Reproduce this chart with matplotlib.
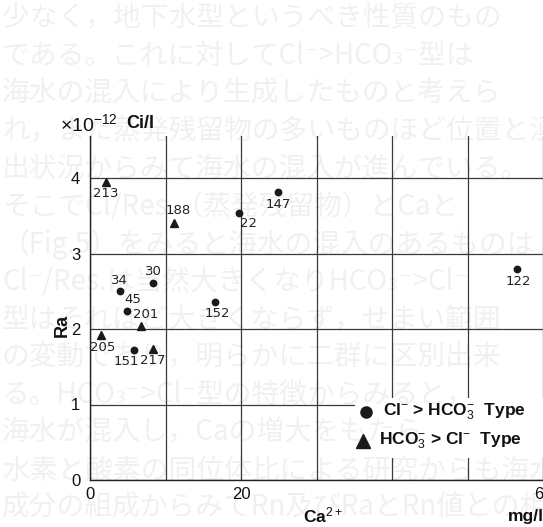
import matplotlib
matplotlib.use("Agg")
import matplotlib.pyplot as plt
from matplotlib.patches import Rectangle

# ---------------- data ----------------
cl_ids = ["147", "22", "30", "34", "45", "152", "151", "122"]
cl_ca = [24.9, 19.7, 8.4, 4.0, 4.9, 16.6, 5.8, 56.5]
cl_ra = [3.81, 3.54, 2.61, 2.50, 2.24, 2.36, 1.72, 2.79]

hco_ids = ["213", "188", "201", "205", "217"]
hco_ca = [2.1, 11.1, 6.75, 1.5, 8.3]
hco_ra = [3.95, 3.41, 2.04, 1.92, 1.74]

x_ticks = [0, 10, 20, 30, 40, 50, 60]
x_tick_labels = ["0", "", "20", "", "", "", "60"]
y_ticks = [0, 1, 2, 3, 4]
y_tick_labels = ["0", "1", "2", "3", "4"]

legend_labels = [r"Cl$^{-}$ > HCO$_{3}^{-}$  Type", r"HCO$_{3}^{-}$ > Cl$^{-}$  Type"]

# faint show-through text of the printed page
page_lines = [
    "少なく，地下水型というべき性質のもの",
    "である。これに対してCl⁻>HCO₃⁻型は",
    "海水の混入により生成したものと考えら",
    "れ，また蒸発残留物の多いものほど位置と湧",
    "出状況からみて海水の混入が進んでいる。",
    "そこでCl/Res.（蒸発残留物）とCaと",
    "（Fig.5）をみると海水の混入のあるものは",
    "Cl⁻/Res.は当然大きくなりHCO₃⁻>Cl⁻",
    "型はそれほど大きくならず，せまい範囲",
    "の変動であり，明らかに二群に区別出来",
    "る。HCO₃⁻>Cl⁻型の特徴からみると，",
    "海水が混入し，Caの増大をもたら",
    "水素と酸素の同位体比による研究からも海水混入",
    "成分の組成からみてRn及びRaとRn値との相",
]

# label offsets (pixels) for point annotations
cl_offsets = {"147": (0, -12), "22": (10, -11), "30": (0, 11), "34": (-1, 11),
              "45": (6, 11), "152": (2, -12), "151": (-7, -11), "122": (2, -12)}
hco_offsets = {"213": (0, -12), "188": (4, 12), "201": (5, 11), "205": (1, -12),
               "217": (0, -12)}

# ---------------- style ----------------
plt.rcParams["font.family"] = ["Liberation Sans", "DejaVu Sans"]
plt.rcParams["mathtext.fontset"] = "custom"
plt.rcParams["mathtext.rm"] = "Liberation Sans"
plt.rcParams["mathtext.it"] = "Liberation Sans:italic"
plt.rcParams["mathtext.bf"] = "Liberation Sans:bold"

W, H = 543, 527
fig = plt.figure(figsize=(W / 100, H / 100), dpi=100)
fig.patch.set_facecolor("white")

x0, x1 = 90, 543
y0, ytop = 480, 136
ax = fig.add_axes([x0 / W, (H - y0) / H, (x1 - x0) / W, (y0 - ytop) / H])
ax.set_xlim(0, 60)
ax.set_ylim(0, (y0 - ytop) / 75.5)
ax.patch.set_alpha(0)

ax.set_xticks(x_ticks)
ax.set_xticklabels(x_tick_labels)
ax.set_yticks(y_ticks)
ax.set_yticklabels(y_tick_labels)
ax.tick_params(length=0, labelsize=12, colors="#111111")
ax.tick_params(axis="x", pad=5)
ax.tick_params(axis="y", pad=7)
ax.grid(True, color="#3a3a3a", lw=0.9)
for s in ["top", "right"]:
    ax.spines[s].set_visible(False)
for s in ["left", "bottom"]:
    ax.spines[s].set_color("#222222")
    ax.spines[s].set_linewidth(1.0)

ax.plot(cl_ca, cl_ra, "o", color="#1a1a1a", ms=4.6, zorder=5, clip_on=False)
ax.plot(hco_ca, hco_ra, "^", color="#1a1a1a", ms=6, zorder=5, clip_on=False)

for i, x, y in zip(cl_ids, cl_ca, cl_ra):
    ax.annotate(i, (x, y), xytext=cl_offsets[i], textcoords="offset pixels",
                ha="center", va="center", fontsize=9.5, color="#222222",
                family="DejaVu Sans", zorder=6)
for i, x, y in zip(hco_ids, hco_ca, hco_ra):
    ax.annotate(i, (x, y), xytext=hco_offsets[i], textcoords="offset pixels",
                ha="center", va="center", fontsize=9.5, color="#222222",
                family="DejaVu Sans", zorder=6)

# legend box (white patch over the grid)
ax.add_patch(Rectangle((355 / W, (H - 458) / H), (W - 355) / W, 60 / H,
                       transform=fig.transFigure, facecolor="white",
                       edgecolor="none", zorder=4, clip_on=False))
fig.lines.append(plt.Line2D([366 / W], [1 - 412 / H], marker="o", ms=8,
                            color="#1a1a1a", ls="none", transform=fig.transFigure))
fig.lines.append(plt.Line2D([363 / W], [1 - 441 / H], marker="^", ms=10,
                            color="#1a1a1a", ls="none", transform=fig.transFigure))
fig.text(383 / W, 1 - 412 / H, legend_labels[0], fontsize=12.5, va="center",
         ha="left", color="#111111", fontweight="bold")
fig.text(379 / W, 1 - 441 / H, legend_labels[1], fontsize=12.5, va="center",
         ha="left", color="#111111", fontweight="bold")

# axis annotations
fig.text(60 / W, 1 - 124 / H, r"$\times$10$^{-12}$", fontsize=14,
         va="center", ha="left", color="#111111")
fig.text(126 / W, 1 - 124 / H, "Ci/l", fontsize=13,
         va="center", ha="left", color="#111111", fontweight="bold")
fig.text(62 / W, 1 - 325 / H, "Ra", rotation=90, fontsize=13, va="center",
         ha="center", color="#111111", fontweight="bold")
fig.text(303 / W, 1 - 515 / H, r"Ca$^{2+}$", fontsize=12.5, va="center",
         ha="left", color="#111111", fontweight="bold")
fig.text(508 / W, 1 - 517 / H, "mg/l", fontsize=12.5, va="center",
         ha="left", color="#111111", fontweight="bold")

# faint page text (show-through)
for k, line in enumerate(page_lines):
    fig.text(2 / W, 1 - (18 + 37.7 * k) / H, line, fontsize=20, va="center",
             ha="left", color="black", alpha=0.06,
             family=["Noto Sans CJK JP", "DejaVu Sans"], zorder=0)

fig.savefig("out.png", dpi=100)
